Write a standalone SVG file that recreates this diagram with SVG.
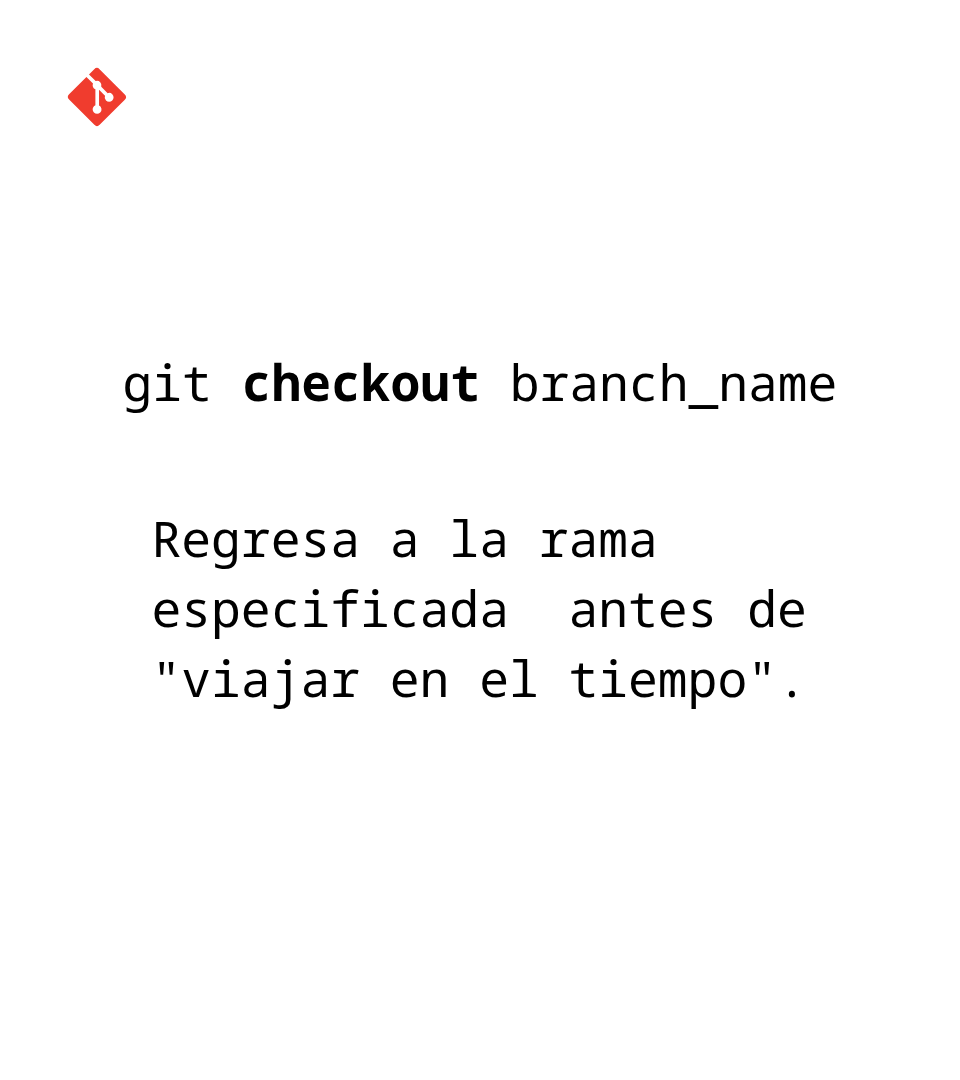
<svg xmlns="http://www.w3.org/2000/svg" width="960" height="1080" viewBox="0 0 960 1080">
<style>
text{font-family:"Noto Sans Mono","DejaVu Sans Mono",monospace;fill:#000;white-space:pre;font-size:49.65px}
.k{font-weight:700}
</style>
<rect width="960" height="1080" fill="#fff"/>
<g id="git-logo">
<path transform="translate(68 68) scale(0.63)" fill="#f03c2e" d="M90.156 41.965 50.036 1.848a5.918 5.918 0 0 0-8.372 0l-8.328 8.332 10.566 10.566a7.03 7.03 0 0 1 7.23 1.684 7.034 7.034 0 0 1 1.669 7.277l10.187 10.184a7.028 7.028 0 0 1 7.278 1.672 7.04 7.04 0 0 1 0 9.957 7.05 7.05 0 0 1-9.965 0 7.044 7.044 0 0 1-1.528-7.66l-9.5-9.497V59.36a7.04 7.04 0 0 1 1.86 11.29 7.04 7.04 0 0 1-9.957 0 7.04 7.04 0 0 1 0-9.958 7.06 7.06 0 0 1 2.304-1.539V33.926a7.049 7.049 0 0 1-3.82-9.234L29.242 14.272 1.73 41.777a5.925 5.925 0 0 0 0 8.371L41.852 90.27a5.925 5.925 0 0 0 8.37 0l39.934-39.934a5.925 5.925 0 0 0 0-8.371"/>
</g>
<g id="command"><text x="122.500" y="401">git <tspan class="k">checkout</tspan> branch_name</text></g>
<g id="description">
<text x="151.500" y="557">Regresa a la rama</text>
<text x="151.500" y="627">especificada  antes de</text>
<text x="151.500" y="697">"viajar en el tiempo".</text>
</g>
</svg>
